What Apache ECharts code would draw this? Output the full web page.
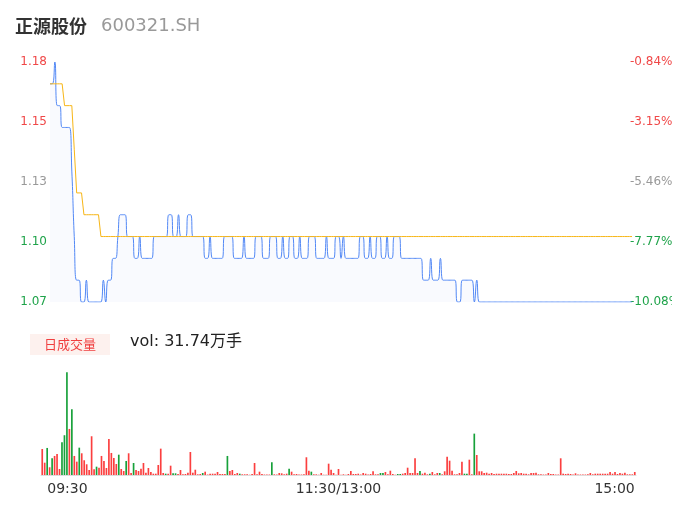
<!DOCTYPE html>
<html><head><meta charset="utf-8">
<script src="https://cdn.jsdelivr.net/npm/echarts@6/dist/echarts.min.js"></script>
<style>html,body{margin:0;padding:0;background:#fff}#c{width:672px;height:524px}</style>
</head><body><div id="c"></div>
<script>
const stockName = '正源股份';
const stockCode = '600321.SH';
const volTag = '日成交量';
const volTotalText = 'vol: 31.74万手';
const priceMin = 1.07, priceMax = 1.18;
const priceTicks = [1.07, 1.0975, 1.125, 1.1525, 1.18];
const priceTickLabels = ['1.07', '1.10', '1.13', '1.15', '1.18'];
const pctTickLabels = ['-10.08%', '-7.77%', '-5.46%', '-3.15%', '-0.84%'];
const xTickIdx = [0, 120, 240];
const xTickLabels = ['09:30', '11:30/13:00', '15:00'];

const price = [
 1.17,1.17,1.18,1.16,1.16,1.15,1.15,1.15,1.15,1.13,
 1.10,1.08,1.08,1.07,1.07,1.08,1.07,1.07,1.07,1.07,
 1.07,1.07,1.08,1.07,1.08,1.08,1.09,1.09,1.10,1.11,
 1.11,1.11,1.10,1.10,1.10,1.09,1.09,1.10,1.09,1.09,
 1.09,1.09,1.09,1.10,1.10,1.10,1.10,1.10,1.10,1.11,
 1.11,1.10,1.10,1.11,1.10,1.10,1.10,1.11,1.11,1.10,
 1.10,1.10,1.10,1.10,1.09,1.09,1.10,1.09,1.09,1.09,
 1.09,1.09,1.10,1.10,1.10,1.10,1.09,1.09,1.09,1.09,
 1.10,1.09,1.09,1.09,1.09,1.10,1.10,1.10,1.09,1.09,
 1.09,1.10,1.10,1.10,1.09,1.09,1.10,1.09,1.09,1.10,
 1.10,1.09,1.09,1.10,1.09,1.09,1.09,1.10,1.10,1.10,
 1.09,1.09,1.09,1.09,1.10,1.09,1.09,1.09,1.10,1.10,
 1.09,1.10,1.09,1.09,1.09,1.09,1.09,1.09,1.10,1.10,
 1.09,1.09,1.10,1.09,1.09,1.10,1.10,1.09,1.09,1.10,
 1.09,1.09,1.10,1.10,1.10,1.09,1.09,1.09,1.09,1.09,
 1.09,1.09,1.09,1.09,1.08,1.08,1.08,1.09,1.08,1.08,
 1.08,1.09,1.08,1.08,1.08,1.08,1.08,1.08,1.07,1.07,
 1.08,1.08,1.08,1.08,1.08,1.07,1.08,1.07,1.07,1.07,
 1.07,1.07,1.07,1.07,1.07,1.07,1.07,1.07,1.07,1.07,
 1.07,1.07,1.07,1.07,1.07,1.07,1.07,1.07,1.07,1.07,
 1.07,1.07,1.07,1.07,1.07,1.07,1.07,1.07,1.07,1.07,
 1.07,1.07,1.07,1.07,1.07,1.07,1.07,1.07,1.07,1.07,
 1.07,1.07,1.07,1.07,1.07,1.07,1.07,1.07,1.07,1.07,
 1.07,1.07,1.07,1.07,1.07,1.07,1.07,1.07,1.07,1.07,
 1.07
];

const avgPrice = [
 1.17,1.17,1.17,1.17,1.17,1.17,1.16,1.16,1.16,1.16,
 1.14,1.12,1.12,1.12,1.11,1.11,1.11,1.11,1.11,1.11,
 1.11,1.10,1.10,1.10,1.10,1.10,1.10,1.10,1.10,1.10,
 1.10,1.10,1.10,1.10,1.10,1.10,1.10,1.10,1.10,1.10,
 1.10,1.10,1.10,1.10,1.10,1.10,1.10,1.10,1.10,1.10,
 1.10,1.10,1.10,1.10,1.10,1.10,1.10,1.10,1.10,1.10,
 1.10,1.10,1.10,1.10,1.10,1.10,1.10,1.10,1.10,1.10,
 1.10,1.10,1.10,1.10,1.10,1.10,1.10,1.10,1.10,1.10,
 1.10,1.10,1.10,1.10,1.10,1.10,1.10,1.10,1.10,1.10,
 1.10,1.10,1.10,1.10,1.10,1.10,1.10,1.10,1.10,1.10,
 1.10,1.10,1.10,1.10,1.10,1.10,1.10,1.10,1.10,1.10,
 1.10,1.10,1.10,1.10,1.10,1.10,1.10,1.10,1.10,1.10,
 1.10,1.10,1.10,1.10,1.10,1.10,1.10,1.10,1.10,1.10,
 1.10,1.10,1.10,1.10,1.10,1.10,1.10,1.10,1.10,1.10,
 1.10,1.10,1.10,1.10,1.10,1.10,1.10,1.10,1.10,1.10,
 1.10,1.10,1.10,1.10,1.10,1.10,1.10,1.10,1.10,1.10,
 1.10,1.10,1.10,1.10,1.10,1.10,1.10,1.10,1.10,1.10,
 1.10,1.10,1.10,1.10,1.10,1.10,1.10,1.10,1.10,1.10,
 1.10,1.10,1.10,1.10,1.10,1.10,1.10,1.10,1.10,1.10,
 1.10,1.10,1.10,1.10,1.10,1.10,1.10,1.10,1.10,1.10,
 1.10,1.10,1.10,1.10,1.10,1.10,1.10,1.10,1.10,1.10,
 1.10,1.10,1.10,1.10,1.10,1.10,1.10,1.10,1.10,1.10,
 1.10,1.10,1.10,1.10,1.10,1.10,1.10,1.10,1.10,1.10,
 1.10,1.10,1.10,1.10,1.10,1.10,1.10,1.10,1.10,1.10,
 1.10
];

const volume = [
 6340,3000,6590,1880,4070,4640,5120,1460,7980,9690,
 25060,11220,16030,4640,3250,6660,5290,3590,2610,1220,
 9440,1390,2030,1780,4640,3420,1710,8780,5370,4150,
 2680,4950,1460,980,3420,5290,490,2930,1220,980,
 1540,2930,560,1710,730,320,320,2440,6420,490,
 320,320,2270,410,410,240,1220,170,240,560,
 5610,560,1290,170,240,490,810,120,320,320,
 320,730,240,240,240,4640,980,1220,240,490,
 320,170,170,170,70,240,2930,170,810,240,
 120,120,120,3100,170,120,490,410,170,320,
 1540,810,170,240,120,120,170,4320,1050,810,
 170,170,70,490,70,70,2760,1290,490,70,
 1460,70,170,70,240,980,240,240,320,120,
 490,320,120,240,900,170,170,490,490,730,
 170,1050,240,70,240,240,320,490,1780,490,
 490,4070,490,980,320,560,170,320,730,170,
 490,490,170,900,4470,3490,1050,170,170,490,
 3250,320,320,3730,170,10080,4880,900,900,490,
 560,320,490,240,320,320,320,320,320,240,
 240,490,980,410,490,320,320,170,490,490,
 560,170,170,120,120,490,240,240,120,120,
 4070,320,240,320,240,120,410,120,120,120,
 120,170,490,170,320,320,320,320,320,320,
 730,320,730,240,490,320,560,170,170,170,730
];
const downBars = [2,4,8,9,10,12,15,22,31,34,37,50,53,54,65,75,80,93,100,109,137,138,144,145,153,157,161,171,172,175];

// minute categories 09:30-11:30, 13:01-15:00
const times = [];
const pad = n => (n < 10 ? '0' : '') + n;
for (let m = 9 * 60 + 30; m <= 11 * 60 + 30; m++) times.push(pad(Math.floor(m / 60)) + ':' + pad(m % 60));
for (let m = 13 * 60 + 1; m <= 15 * 60; m++) times.push(pad(Math.floor(m / 60)) + ':' + pad(m % 60));

const RED = '#f04848', GREEN = '#1fa34a', GREY = '#999999';
const tickIndex = v => priceTicks.findIndex(t => Math.abs(t - v) < 1e-6);
const tickColor = v => { const i = tickIndex(v); return i < 2 ? GREEN : (i === 2 ? GREY : RED); };

const chart = echarts.init(document.getElementById('c'), null, { renderer: 'canvas' });
chart.setOption({
  animation: false,
  backgroundColor: '#ffffff',
  textStyle: { fontFamily: 'DejaVu Sans' },
  grid: [
    { left: 50, right: 40, top: 62, height: 240, outerBoundsMode: 'none', containLabel: false },
    { left: 41, right: 36, top: 365, height: 110, outerBoundsMode: 'none', containLabel: false }
  ],
  xAxis: [
    { type: 'category', gridIndex: 0, data: times, boundaryGap: false, show: false },
    {
      type: 'category', gridIndex: 1, data: times, boundaryGap: true,
      axisLine: { lineStyle: { color: '#dddddd', width: 1 } },
      axisTick: { show: false },
      splitLine: { show: false },
      axisLabel: {
        interval: (i) => xTickIdx.includes(i),
        formatter: (v, i) => {
          const k = xTickIdx.indexOf(i);
          return k === 0 ? '{first|' + xTickLabels[k] + '}' : xTickLabels[k];
        },
        rich: { first: { padding: [0, 0, 0, 5], fontSize: 14, color: '#333333', fontFamily: 'DejaVu Sans' } },
        color: '#333333', fontSize: 14, margin: 7,
        alignMinLabel: 'left', alignMaxLabel: 'right'
      }
    }
  ],
  yAxis: [
    {
      type: 'value', gridIndex: 0, min: priceMin, max: priceMax, position: 'left',
      axisLine: { show: false }, axisTick: { show: false }, splitLine: { show: false },
      axisLabel: {
        customValues: priceTicks, margin: 3, fontSize: 12,
        formatter: v => priceTickLabels[tickIndex(v)],
        color: v => tickColor(v)
      }
    },
    {
      type: 'value', gridIndex: 0, min: priceMin, max: priceMax, position: 'right',
      axisLine: { show: false }, axisTick: { show: false }, splitLine: { show: false },
      axisLabel: {
        customValues: priceTicks, margin: -2, fontSize: 12,
        formatter: v => pctTickLabels[tickIndex(v)],
        color: v => tickColor(v)
      }
    },
    {
      type: 'value', gridIndex: 1, min: 0, max: 26800, show: false,
      splitLine: { show: false }
    }
  ],
  series: [
    {
      type: 'line', name: 'price', xAxisIndex: 0, yAxisIndex: 0, data: price,
      smooth: true, symbol: 'none',
      lineStyle: { color: '#5288f5', width: 1 },
      areaStyle: { color: '#f6f8fe', origin: 'start' }
    },
    {
      type: 'line', name: 'avg', xAxisIndex: 0, yAxisIndex: 0, data: avgPrice,
      smooth: false, symbol: 'none',
      lineStyle: { color: '#f7b617', width: 1 }
    },
    {
      type: 'bar', name: 'vol', xAxisIndex: 1, yAxisIndex: 2, barWidth: '68%',
      data: volume.map((v, i) => ({ value: v, itemStyle: { color: downBars.includes(i) ? '#17a13a' : '#fb3f3f' } }))
    }
  ],
  graphic: [
    { type: 'text', x: 15, y: 26, style: { text: stockName, fill: '#333333', font: 'bold 18px "Noto Sans CJK SC"', textVerticalAlign: 'middle' } },
    { type: 'text', x: 101, y: 26, style: { text: stockCode, fill: '#999999', font: '18px "DejaVu Sans"', textVerticalAlign: 'middle' } },
    { type: 'rect', shape: { x: 30, y: 334, width: 80, height: 21 }, style: { fill: '#fdf1ee' } },
    { type: 'text', x: 70, y: 344.5, style: { text: volTag, fill: '#f04040', font: '13px "Noto Sans CJK SC"', textAlign: 'center', textVerticalAlign: 'middle' } },
    { type: 'text', x: 130, y: 342, style: { text: volTotalText, fill: '#222222', font: '16px "DejaVu Sans", "Noto Sans CJK SC"', textVerticalAlign: 'middle' } }
  ]
});
</script></body></html>
